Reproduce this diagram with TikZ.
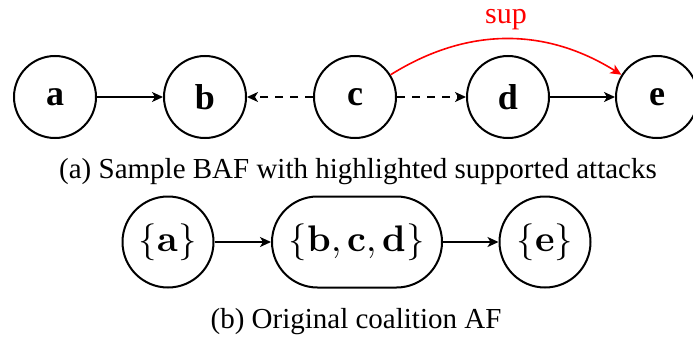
\documentclass[tikz,border=0pt]{standalone}
\usepackage{fontspec}
\setmainfont{Liberation Serif}
\usepackage{unicode-math}
\setmathfont{Latin Modern Math}
\usetikzlibrary{arrows.meta,shapes.misc}
\begin{document}
\begin{tikzpicture}[x=1pt,y=-1pt,
  arg/.style={circle,draw,line width=2pt,minimum size=82pt,inner sep=0pt,font=\fontsize{36}{36}\selectfont\bfseries},
  coal/.style={circle,draw,line width=2pt,minimum size=91pt,inner sep=0pt,font=\fontsize{37}{37}\selectfont},
  coalbox/.style={rounded rectangle,draw,line width=2pt,minimum width=170pt,minimum height=91pt,inner sep=0pt,font=\fontsize{37}{37}\selectfont},
  att/.style={line width=1.6pt,-{Stealth[length=11pt,width=10pt,inset=3pt]}},
  supp/.style={att,dash pattern=on 8pt off 7pt},
  captext/.style={font=\fontsize{29}{29}\selectfont}]
\useasboundingbox (0,0) rectangle (693,337);
\node[arg] (a) at (55,97) {a};
\node[arg] (b) at (205,97) {b};
\node[arg] (c) at (355,97) {c};
\node[arg] (d) at (508,97) {d};
\node[arg] (e) at (657,97) {e};
\draw[att] (a) -- (b);
\draw[supp] (c) -- (b);
\draw[supp] (c) -- (d);
\draw[att] (d) -- (e);
\draw[att,red] (c) to[bend left=32] node[pos=0.5,above=5pt,font=\fontsize{30}{30}\selectfont] (lab) {sup} (e);
\node[captext] (capa) at (358,172) {(a) Sample BAF with highlighted supported attacks};
\node[coal] (A) at (168,242) {$\{\symbfup{a}\}$};
\node[coalbox] (B) at (357,242) {$\{\symbfup{b},\symbfup{c},\symbfup{d}\}$};
\node[coal] (E) at (545,242) {$\{\symbfup{e}\}$};
\draw[att] (A) -- (B);
\draw[att] (B) -- (E);
\node[captext] (capb) at (356,322) {(b) Original coalition AF};
\end{tikzpicture}
\end{document}
